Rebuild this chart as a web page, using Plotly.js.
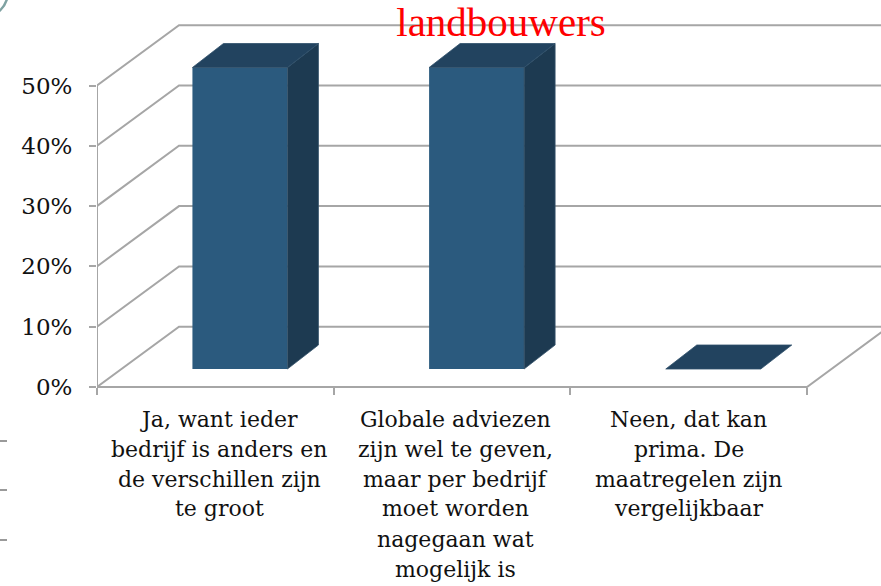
<!DOCTYPE html>
<html>
<head>
<meta charset="utf-8">
<script src="https://cdn.plot.ly/plotly-3.0.1.min.js"></script>
<style>html,body{margin:0;padding:0;background:#fff;}#chart{width:881px;height:586px;}</style>
</head>
<body>
<div id="chart"></div>
<script>
// ---- data ----
const categories = [
  "Ja, want ieder<br>bedrijf is anders en<br>de verschillen zijn<br>te groot",
  "Globale adviezen<br>zijn wel te geven,<br>maar per bedrijf<br>moet worden<br>nagegaan wat<br>mogelijk is",
  "Neen, dat kan<br>prima. De<br>maatregelen zijn<br>vergelijkbaar"
];
const values = [50, 50, 0];
const yTickVals = [0, 10, 20, 30, 40, 50];
const yTickText = ["0%", "10%", "20%", "30%", "40%", "50%"];
const chartTitle = "landbouwers";

// ---- geometry (pixel based styling) ----
const W = 881, H = 586, L = 97;
const UNIT_PX = 236.67;          // px per category
const PCT_PX = 6.03;             // px per 1%
const ZERO_PX = 387;             // pixel row of 0% on the front plane
const px2x = p => p / UNIT_PX;
const px2y = p => p / PCT_PX;
const DX = px2x(82), DY = px2y(60.3);       // floor / wall depth
const SX = px2x(24.6), SY = px2y(18);       // bar front-plane shift
const BDX = px2x(31), BDY = px2y(24);       // bar depth
const BW = px2x(95);                        // bar width
const xMin = -0.5, xMax = categories.length - 0.5;
const xRange = [xMin, xMin + (W - L) / UNIT_PX];
const yRange = [(ZERO_PX - H) / PCT_PX, ZERO_PX / PCT_PX];
const gridColor = "#a6a6a6";

const traces = [];
// back wall / side wall gridlines
const gx = [], gy = [];
yTickVals.forEach(v => {
  gx.push(xMin, xMin + DX, xMax + DX, null);
  gy.push(v, v + DY, v + DY, null);
});
traces.push({type: "scatter", mode: "lines", x: gx, y: gy, line: {color: gridColor, width: 2}, hoverinfo: "skip", showlegend: false});
// floor right edge + front axes
traces.push({type: "scatter", mode: "lines",
  x: [xMin, xMin, xMax, xMax + DX], y: [yTickVals[yTickVals.length - 1], 0, 0, DY],
  line: {color: gridColor, width: 2}, hoverinfo: "skip", showlegend: false});

// bar front faces
const idx = categories.map((c, i) => i);
traces.push({type: "bar", x: idx, y: values, base: SY, width: BW, offset: -BW / 2 + SX,
  marker: {color: "#2b5a7e", line: {width: 0}}, xaxis: "x2", yaxis: "y2", hoverinfo: "skip", showlegend: false});
// bar side and top faces
values.forEach((v, i) => {
  const x0 = i - BW / 2 + SX, x1 = i + BW / 2 + SX;
  const b = SY, t = v + SY;
  if (v > 0) {
    traces.push({type: "scatter", mode: "lines", fill: "toself", fillcolor: "#1d3a51",
      x: [x1, x1 + BDX, x1 + BDX, x1, x1], y: [b, b + BDY, t + BDY, t, b],
      line: {width: 0.8, color: "#35536b"}, xaxis: "x2", yaxis: "y2", hoverinfo: "skip", showlegend: false});
  }
  traces.push({type: "scatter", mode: "lines", fill: "toself", fillcolor: "#22435f",
    x: [x0, x1, x1 + BDX, x0 + BDX, x0], y: [t, t, t + BDY, t + BDY, t],
    line: {width: 0.8, color: "#2f4f6a"}, xaxis: "x2", yaxis: "y2", hoverinfo: "skip", showlegend: false});
});

// category labels, line by line
const annotations = [];
const firstLineCenterPx = 419, lineGap = 30;
const labelShiftPx = [4, 3, 0];
categories.forEach((c, i) => {
  c.split("<br>").forEach((line, k) => {
    annotations.push({text: line, xref: "x", yref: "paper", x: i, xshift: labelShiftPx[i],
      y: (H - (firstLineCenterPx + k * lineGap)) / H, xanchor: "center", yanchor: "middle",
      showarrow: false, font: {family: "DejaVu Serif", size: 22, color: "#111"}});
  });
});

const shapes = [
  {type: "circle", xref: "paper", yref: "paper", x0: (-45 - L) / (W - L), x1: (8 - L) / (W - L),
    y0: (H - 18) / H, y1: (H + 35) / H, line: {color: "#7fa2a2", width: 2.5}},
  ...[441, 490, 540].map(py => ({type: "line", xref: "paper", yref: "paper",
    x0: (0 - L) / (W - L), x1: (7 - L) / (W - L), y0: (H - py) / H, y1: (H - py) / H,
    line: {color: "#9a9a9a", width: 2}}))
];

const layout = {
  width: W, height: H, autosize: false,
  margin: {l: L, r: 0, t: 0, b: 0, pad: 0},
  paper_bgcolor: "#fff", plot_bgcolor: "rgba(0,0,0,0)",
  showlegend: false,
  title: {text: chartTitle, xref: "container", yref: "container", x: 501 / W, y: 1 - 22 / H,
    xanchor: "center", yanchor: "middle", font: {family: "Liberation Serif", size: 41, color: "#ff0000"}},
  xaxis: {range: xRange, anchor: "free", position: (H - ZERO_PX) / H,
    tickmode: "array", tickvals: [-0.5, 0.5, 1.5, 2.5], ticks: "outside", ticklen: 7, tickwidth: 2,
    tickcolor: gridColor, showticklabels: false, showgrid: false, zeroline: false, showline: false, fixedrange: true},
  yaxis: {range: yRange, tickmode: "array", tickvals: yTickVals, ticktext: yTickText,
    ticks: "outside", ticklen: 7, tickwidth: 2, tickcolor: gridColor, ticklabelstandoff: 12,
    tickfont: {family: "DejaVu Serif", size: 23, color: "#111"},
    showgrid: false, zeroline: false, showline: false, fixedrange: true},
  xaxis2: {range: xRange, overlaying: "x", visible: false, fixedrange: true},
  yaxis2: {range: yRange, overlaying: "y", visible: false, fixedrange: true},
  annotations: annotations,
  shapes: shapes
};

Plotly.newPlot("chart", traces, layout, {displayModeBar: false, staticPlot: true});
</script>
</body>
</html>
